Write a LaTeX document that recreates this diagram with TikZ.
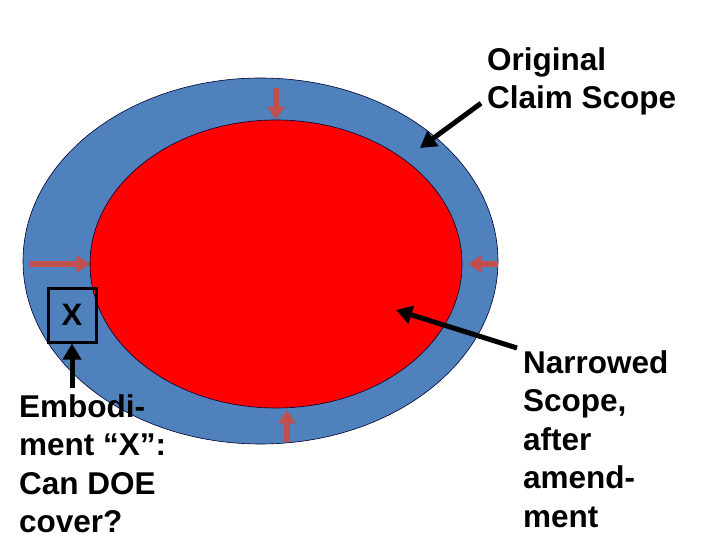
\documentclass[tikz,border=0pt]{standalone}
\usepackage{fontspec}
\setmainfont{Liberation Sans}
\usetikzlibrary{arrows.meta, positioning, shapes.geometric, calc}
\definecolor{scopeblue}{HTML}{4F81BD}
\definecolor{pushred}{HTML}{C0504D}
\tikzset{
  scope/.style  ={ellipse, draw=black!80!blue, line width=0.6pt, inner sep=0pt},
  lbl/.style    ={align=left, inner sep=0pt, font=\fontsize{31.5}{38.5}\selectfont\bfseries},
  xbox/.style   ={rectangle, draw, line width=3pt, minimum width=48pt, minimum height=54pt, inner sep=0pt,
                  font=\fontsize{31}{38.5}\selectfont\bfseries},
  push/.style   ={draw=pushred, line width=5.5pt, -{Triangle[length=13pt,width=17pt]}},
  ptr/.style    ={draw=black, line width=5pt, -{Triangle[length=16pt,width=18pt]}},
}
\begin{document}
\begin{tikzpicture}[x=1pt, y=-1pt]
  \useasboundingbox (0,0) rectangle (720,540);
  % claim scopes
  \node[scope, fill=scopeblue, minimum width=475pt, minimum height=366pt] (outer) at (260.5,261) {};
  \node[scope, fill=red, minimum width=372pt, minimum height=288pt] (inner) at (276,264) {};
  % narrowing arrows
  \draw[push] ($(inner.north)+(0,-32)$) -- (inner.north);
  \draw[push] ($(inner.south)+(11,34)$) -- ($(inner.south)+(11,2)$);
  \draw[push] ($(inner.west)+(-60,0)$) -- (inner.west);
  \draw[push] ($(inner.east)+(36,0)$) -- ($(inner.east)+(6,0)$);
  % embodiment
  \node[xbox] (emb) at (72,315) {X};
  \node[lbl, anchor=north west] (embtxt) at (19,394) {Embodi-\\ment “X”:\\Can DOE\\cover?};
  \draw[ptr] ($(embtxt.north west)+(53,-6)$) -- (emb.south -| 72,0);
  % labels
  \node[lbl, anchor=north west] (orig) at (487,47) {Original\\Claim Scope};
  \coordinate (origtip) at (420,148);
  \draw[ptr] ($(orig.south west)+(-6,-12)$) -- (origtip);
  \node[lbl, anchor=north west] (narrow) at (523,350) {Narrowed\\Scope,\\after\\amend-\\ment};
  \coordinate (narrowtip) at (396,310);
  \draw[ptr] ($(narrow.north west)+(-6,-2)$) -- (narrowtip);
\end{tikzpicture}
\end{document}
